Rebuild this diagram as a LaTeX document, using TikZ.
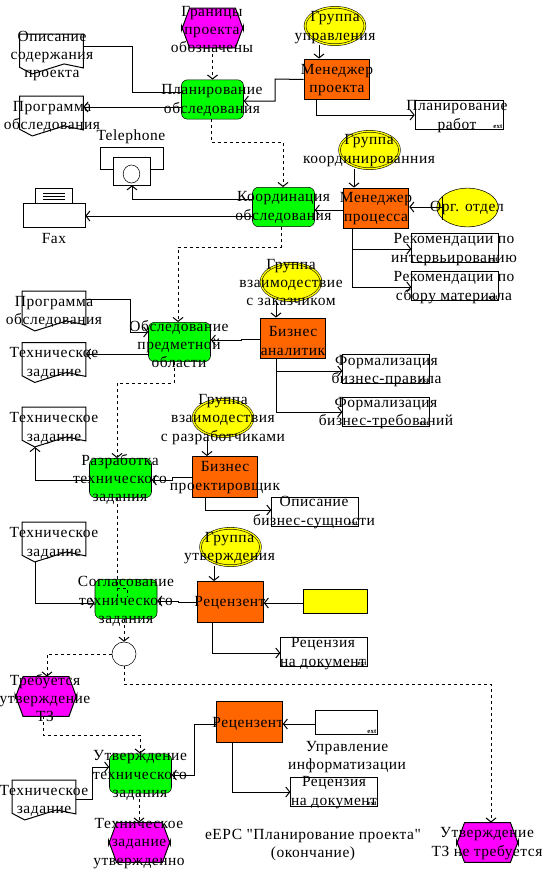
\documentclass[tikz,border=0pt]{standalone}
\usepackage{fontspec}
\setmainfont[LetterSpace=3.5,Ligatures=TeXOff]{Liberation Serif}
\definecolor{funcgreen}{HTML}{00FF00}
\definecolor{evtpink}{HTML}{FF00FF}
\definecolor{roleorange}{HTML}{FF6600}
\definecolor{grpyellow}{HTML}{FFFF00}
\usetikzlibrary{arrows.meta,shapes.geometric,calc}
\tikzset{
  func/.style={draw,fill=funcgreen,rounded corners=4.5pt,minimum width=46.5pt,minimum height=29.5pt,inner sep=0},
  evtbox/.style={minimum width=46pt,minimum height=29.5pt,inner sep=0},
  role/.style={draw,fill=roleorange,line width=.9pt,minimum width=49pt,minimum height=30.5pt,inner sep=0},
  grp/.style={ellipse,draw,double=grpyellow,double distance=1pt,fill=grpyellow,minimum width=45pt,minimum height=28pt,inner sep=0},
  org/.style={ellipse,draw,fill=grpyellow,minimum width=46pt,minimum height=29pt,inner sep=0},
  filebox/.style={draw,fill=white,minimum width=65pt,minimum height=22pt,inner sep=0},
  docbox/.style={minimum width=47.5pt,minimum height=25pt,inner sep=0},
  txt/.style={align=center,font=\fontsize{11.6}{13.7}\selectfont,inner sep=0},
  tinytxt/.style={font=\fontsize{5}{5}\selectfont\bfseries,inner sep=.5pt,anchor=south east},
  arr/.style={-{Straight Barb[length=3pt,width=7.5pt]},line width=.75pt},
  lin/.style={line width=.75pt},
  dsh/.style={line width=.75pt,dash pattern=on 2.25pt off 2.25pt},
  darr/.style={arr,dash pattern=on 2.25pt off 2.25pt}
}
% document shape with the broken lower edge
\newcommand{\docnode}[3]{
  \node[docbox] (#1) at (#2,#3) {};
  \draw[lin] (#1.north west) -- (#1.north east) -- (#1.south east)
    -- ($(#1.south east)+(-14.5pt,3pt)$) -- ($(#1.south west)+(9.5pt,-4.5pt)$)
    -- ($(#1.south west)+(0,0.5pt)$) -- cycle;
}
% event hexagon
\newcommand{\evtnode}[3]{
  \node[evtbox] (#1) at (#2,#3) {};
  \draw[lin,fill=evtpink] ($(#1.north west)+(6pt,0)$) -- ($(#1.north east)+(-6pt,0)$)
    -- ($(#1.east)+(0,-1.5pt)$) -- ($(#1.east)+(0,1.5pt)$) -- ($(#1.south east)+(-6pt,0)$)
    -- ($(#1.south west)+(6pt,0)$) -- ($(#1.west)+(0,1.5pt)$) -- ($(#1.west)+(0,-1.5pt)$) -- cycle;
}
\begin{document}
\begin{tikzpicture}[x=.75pt,y=-.75pt]
  \useasboundingbox (0,0) rectangle (543,872);
  % top row
  \evtnode{e1}{212.5}{28}
  \node[txt] (e1t) at (212,29.5) {Границы\\проекта\\обозначены};
  \docnode{d1}{51.5}{51}
  \node[txt] (d1t) at (52,56) {Описание\\содержания\\проекта};
  \docnode{d2}{51.5}{113}
  \node[txt] (d2t) at (52,117) {Программа\\обследования};
  \node[func] (f1) at (212.5,99.5) {};
  \node[txt] (f1t) at (212,100.5) {Планирование\\обследования};
  \node[grp] (g1) at (335,26) {};
  \node[txt] (g1t) at (335,27.5) {Группа\\управления};
  \node[role] (r1) at (337,79.5) {};
  \node[txt] (r1t) at (337,80) {Менеджер\\проекта};
  \node[filebox,minimum width=66pt] (o1) at (459,114.5) {};
  \node[txt] (o1t) at (457,116.5) {Планирование\\работ};
  \draw[darr] (e1.south) -- (f1.north);
  \draw[lin] (d1.east |- 0,46) -- (132,46) -- (132,92) -- (f1.west |- 0,92);
  \draw[arr] (f1.west |- 0,107) -- (d2.east |- 0,107);
  \draw[arr] (g1.south -| 319,0) -- (r1.north -| 319,0);
  \draw[arr] (r1.west) -- (275,79) -- (275,101) -- (f1.east |- 0,101);
  \draw[arr] (r1.south -| 316,0) -- (316,115) -- (o1.west |- 0,115);
  % telephone and fax
  \node[txt] (telt) at (131,136.5) {Telephone};
  \node[draw,fill=white,minimum width=47pt,minimum height=16.5pt,inner sep=0] (telb) at (131.5,158) {};
  \node[draw,fill=white,minimum width=28pt,minimum height=21pt,inner sep=0] (telf) at (131.5,171) {};
  \node[ellipse,draw,minimum width=12.5pt,minimum height=13.5pt,inner sep=0] (teld) at (131.5,174) {};
  \node[draw,fill=white,minimum width=28pt,minimum height=11pt,inner sep=0] (faxp) at (54,195.5) {};
  \node[draw,fill=white,minimum width=46.5pt,minimum height=18pt,inner sep=0] (faxb) at (54,215) {};
  \node[txt] (faxt) at (54,239) {Fax};
  \foreach \ypos in {193,196,199} \draw[lin] (43,\ypos) -- (65,\ypos);
  % coordination
  \node[func] (f2) at (283.5,207) {};
  \node[txt] (f2t) at (283.5,207.5) {Координация\\обследования};
  \node[grp] (g2) at (369.5,150) {};
  \node[txt] (g2t) at (369,150.5) {Группа\\координированния};
  \node[role] (r2) at (376,208.5) {};
  \node[txt] (r2t) at (376,208.5) {Менеджер\\процесса};
  \node[org] (g3) at (467.5,207.5) {};
  \node[txt] (g3t) at (467,208) {Орг. отдел};
  \coordinate (g3a) at (442,207);
  \draw[lin] (442,197) -- (442,220);
  \node[filebox] (o2) at (455,248) {};
  \node[txt] (o2t) at (454,249.5) {Рекомендации по\\интервьированию};
  \node[filebox] (o3) at (455,286) {};
  \node[txt] (o3t) at (454,287.5) {Рекомендации по\\сбору материала};
  \draw[darr] (f1.south -| 211,0) -- (211,142) -- (283,142) -- (f2.north -| 283,0);
  \draw[arr] (f2.west |- 0,199) -- (132,199) -- (telf.south -| 132,0);
  \draw[arr] (f2.west |- 0,216) -- (faxb.east |- 0,216);
  \draw[arr] (r2.west |- 0,210) -- (f2.east |- 0,210);
  \draw[arr] (g2.south -| 354,0) -- (r2.north -| 354,0);
  \draw[arr] (g3a) -- (r2.east |- g3a);
  \draw[arr] (r2.south -| 352,0) -- (352,249) -- (o2.west |- 0,249);
  \draw[arr] (r2.south -| 352,0) -- (352,287) -- (o3.west |- 0,287);
  % survey
  \docnode{d3}{54}{308}
  \node[txt] (d3t) at (54,312) {Программа\\обследования};
  \docnode{d4}{54}{359.5}
  \node[txt] (d4t) at (54,363.5) {Техническое\\задание};
  \node[func] (f3) at (179.5,342) {};
  \node[txt] (f3t) at (179,344) {Обследование\\предметной\\области};
  \node[grp] (g4) at (291,282) {};
  \node[txt] (g4t) at (291,282.5) {Группа\\взаимодествие\\с заказчиком};
  \node[role] (r3) at (293,338.5) {};
  \node[txt] (r3t) at (293,341) {Бизнес\\аналитик};
  \node[filebox] (o4) at (386,369) {};
  \node[txt] (o4t) at (386.5,371) {Формализация\\бизнес-правила};
  \node[filebox] (o5) at (386,411.5) {};
  \node[txt] (o5t) at (386,413) {Формализация\\бизнес-требований};
  \draw[darr] (f2.south -| 281,0) -- (281,247) -- (178,247) -- (f3.north -| 178,0);
  \draw[arr] (d3.east |- 0,299) -- (130,299) -- (130,332) -- (f3.west |- 0,332);
  \draw[arr] (f3.west |- 0,354) -- (d4.east |- 0,354);
  \draw[arr] (g4.south -| 276,0) -- (r3.north -| 276,0);
  \draw[arr] (r3.west |- 0,339) -- (241,339) -- (241,340) -- (f3.east |- 0,340);
  \draw[arr] (r3.south -| 276,0) -- (276,371) -- (o4.west |- 0,371);
  \draw[arr] (r3.south -| 276,0) -- (276,412) -- (o5.west |- 0,412);
  % specification
  \docnode{d5}{54}{424}
  \node[txt] (d5t) at (54,428.5) {Техническое\\задание};
  \node[func] (f4) at (120.5,478) {};
  \node[txt] (f4t) at (120,479.5) {Разработка\\технического\\задания};
  \node[grp] (g5) at (223,418) {};
  \node[txt] (g5t) at (223,419.5) {Группа\\взаимодествия\\с разработчиками};
  \node[role] (r4) at (225,477) {};
  \node[txt] (r4t) at (225,477.5) {Бизнес\\проектировщик};
  \node[filebox] (o6) at (315,511.5) {};
  \node[txt] (o6t) at (314,512.5) {Описание\\бизнес-сущности};
  \draw[darr] (f3.south -| 174,0) -- (174,383) -- (117,383) -- (f4.north -| 117,0);
  \draw[arr] (f4.west |- 0,480) -- (35,480) -- (35,447);
  \draw[arr] (r4.west |- 0,477) -- (172,477) -- (172,480) -- (f4.east |- 0,480);
  \draw[arr] (g5.south -| 207,0) -- (r4.north -| 207,0);
  \draw[arr] (r4.south -| 205,0) -- (205,510) -- (o6.west |- 0,510);
  % agreement
  \docnode{d6}{54}{539}
  \node[txt] (d6t) at (54,543.5) {Техническое\\задание};
  \node[func] (f5) at (126,599) {};
  \node[txt] (f5t) at (126,601.5) {Согласование\\технического\\задания};
  \node[grp] (g6) at (230.5,547) {};
  \node[txt] (g6t) at (229.5,548) {Группа\\утверждения};
  \node[role] (r5) at (230.5,602) {};
  \node[txt] (r5t) at (230,603) {Рецензент};
  \node[draw,fill=grpyellow,minimum width=48pt,minimum height=18pt,inner sep=0] (g7) at (335,601) {};
  \node[filebox] (o7) at (324,652) {};
  \node[txt] (o7t) at (323,653.5) {Рецензия\\на документ};
  \node[circle,draw,fill=white,minimum size=18pt,inner sep=0] (c1) at (124,654) {};
  \draw[dsh] (f4.south -| 117,0) -- (117,597);
  \draw[dsh] (117,588) -- (127,588) -- (127,597);
  \draw[arr] (35,562) -- (35,603) -- (f5.west |- 0,603);
  \draw[arr] (r5.west) -- (178,602) -- (178,601) -- (f5.east |- 0,601);
  \draw[arr] (g6.south -| 214,0) -- (r5.north -| 214,0);
  \draw[arr] (g7.west |- 0,603) -- (r5.east |- 0,603);
  \draw[arr] (r5.south -| 212,0) -- (212,653) -- (o7.west |- 0,653);
  \draw[darr] (f5.south -| 124,0) -- (c1.north);
  % approval
  \evtnode{e2}{46}{696.5}
  \node[txt] (e2t) at (45,698) {Требуется\\утверждение\\ТЗ};
  \node[func] (f6) at (140.5,773.5) {};
  \node[txt] (f6t) at (140,775.5) {Утверждение\\технического\\задания};
  \docnode{d7}{44}{797}
  \node[txt] (d7t) at (44,801) {Техническое\\задание};
  \evtnode{e3}{139.5}{842.5}
  \node[txt] (e3t) at (139,843.5) {Техническое\\задание\\утвержденно};
  \node[role] (r6) at (249.5,722) {};
  \node[txt] (r6t) at (248,723.5) {Рецензент};
  \node[filebox,fill=white,minimum width=46.5pt,minimum height=18pt] (o8) at (346,722) {};
  \node[txt] (o8t) at (347,757) {Управление\\информатизации};
  \node[filebox] (o9) at (334,792) {};
  \node[txt] (o9t) at (334,792.5) {Рецензия\\на документ};
  \node[txt] (capt) at (313,845) {еЕРС "Планирование проекта"\\(окончание)};
  \evtnode{e4}{487.5}{842.5}
  \node[txt] (e4t) at (487,843.5) {Утверждение\\ТЗ не требуется};
  \foreach \obj in {o1,o2,o3,o4,o5,o6,o7,o8,o9} \node[tinytxt] (\obj x) at (\obj.south east) {ext};
  \draw[darr] (c1.west) -- (47,654) -- (e2.north -| 47,0);
  \draw[darr] (c1.south) -- (124,684) -- (491,684) -- (e4.north -| 491,0);
  \draw[darr] (e2.south -| 43,0) -- (43,735) -- (140,735) -- (f6.north -| 140,0);
  \draw[arr] (d7.east |- 0,799) -- (92,799) -- (92,767) -- (f6.west |- 0,767);
  \draw[arr] (r6.west |- 0,724) -- (194,724) -- (194,775) -- (f6.east |- 0,775);
  \draw[darr] (f6.south -| 139,0) -- (e3.north -| 139,0);
  \draw[arr] (o8.west |- 0,724) -- (r6.east |- 0,724);
  \draw[arr] (r6.south -| 232,0) -- (232,792) -- (o9.west |- 0,792);
\end{tikzpicture}
\end{document}
